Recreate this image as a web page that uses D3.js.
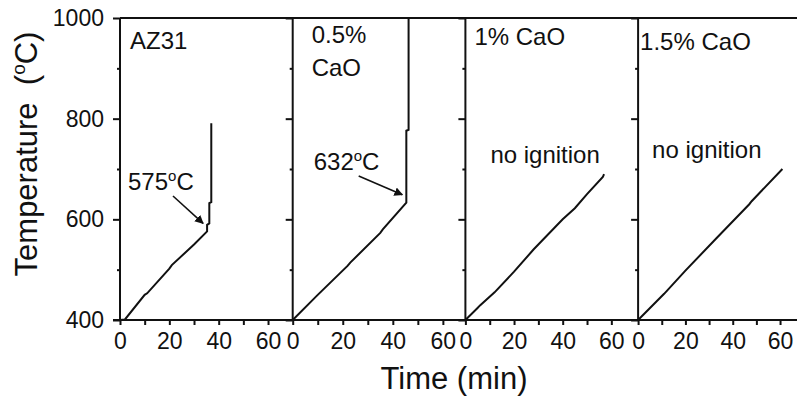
<!DOCTYPE html>
<html>
<head>
<meta charset="utf-8">
<script src="https://cdn.jsdelivr.net/npm/d3@7"></script>
<style>
  body { margin: 0; background: #fff; }
  svg text { font-family: "Liberation Sans", Arial, sans-serif; fill: #111; }
</style>
</head>
<body>
<script>
const width = 797;
const height = 402;

// panel names (two-line label for 0.5% CaO)
const panelLabels = [["AZ31"], ["0.5%", "CaO"], ["1% CaO"], ["1.5% CaO"]];
const xMaxes = [70, 69, 71, 73];
const xTickValues = [0, 20, 40, 60];
const yTickValues = [400, 600, 800, 1000];
const ignitionTemps = ["575", "632", null, null];

// temperature vs time, [min, degC]
const az31 = [[0, 400], [2, 401], [10, 450], [11, 453], [20, 502], [21, 509], [30, 550], [35.3, 576],
  [35.3, 589], [36.2, 592], [36.2, 632], [37, 634], [37, 791]];
const cao05 = [[0, 400], [9, 445], [10, 450], [22, 508], [23, 514], [35, 573], [36, 580], [45.4, 633],
  [45.4, 776], [46.3, 778], [46.3, 1000]];
const cao10 = [[0, 400], [5, 424], [6, 429], [12, 455], [20, 496], [28, 540], [40, 600], [45, 622],
  [50, 650], [56.5, 684], [57, 690]];
const cao15 = [[0, 400], [11, 452], [20, 498], [33, 562], [47, 630], [48, 636], [61, 700]];
const allSeries = [az31, cao05, cao10, cao15];

const plotTop = 18, plotBottom = 320, left0 = 120, panelW = 172.7;

const svg = d3.select("body").append("svg")
  .attr("width", width)
  .attr("height", height);

svg.append("defs").append("marker")
  .attr("id", "arrow")
  .attr("viewBox", "0 0 10 10")
  .attr("refX", 9).attr("refY", 5)
  .attr("markerWidth", 5.5).attr("markerHeight", 5.5)
  .attr("orient", "auto")
  .append("path")
  .attr("d", "M0,0L10,5L0,10z")
  .attr("fill", "#111");

let y = d3.scaleLinear().domain([400, 1000]).range([plotBottom, plotTop]);

// top frame line across all panels
svg.append("line")
  .attr("x1", left0).attr("x2", left0 + 4 * panelW)
  .attr("y1", plotTop).attr("y2", plotTop)
  .attr("stroke", "#111").attr("stroke-width", 2);

allSeries.forEach(function (data, i) {
  const x0 = left0 + i * panelW;
  const x = d3.scaleLinear().domain([0, xMaxes[i]]).range([x0, x0 + panelW]);
  const g = svg.append("g");

  // y axis: majors with labels on first panel only, minors short
  g.append("g")
    .attr("transform", "translate(" + x0 + ",0)")
    .call(d3.axisLeft(y).tickValues([500, 700, 900]).tickSize(3).tickFormat(""))
    .call(a => a.select(".domain").remove());
  const ya = g.append("g")
    .attr("transform", "translate(" + x0 + ",0)")
    .call(d3.axisLeft(y).tickValues(yTickValues).tickSize(7).tickPadding(9)
      .tickFormat(i === 0 ? d3.format("d") : ""));
  ya.select(".domain").attr("d", "M0," + plotTop + "V" + plotBottom);

  // x axis
  const xa = g.append("g")
    .attr("transform", "translate(0," + plotBottom + ")")
    .call(d3.axisBottom(x).tickValues([0, 10, 20, 30, 40, 50, 60]).tickSize(5).tickPadding(8)
      .tickFormat(d => xTickValues.includes(d) ? d : ""));
  xa.select(".domain").attr("d", "M" + (i === 0 ? x0 - 7 : x0) + ",0H" + (x0 + panelW));

  svg.selectAll(".tick line, .domain").attr("stroke", "#111").attr("stroke-width", 2);
  svg.selectAll(".tick text").attr("font-size", 23).attr("fill", "#111");

  // curve
  g.append("path")
    .datum(data)
    .attr("fill", "none")
    .attr("stroke", "#111")
    .attr("stroke-width", 2)
    .attr("d", d3.line().x(d => x(d[0])).y(d => y(d[1])));

  // panel label
  const lx = x0 + [10, 19, 9, 2][i];
  const lab = g.append("text")
    .attr("x", lx)
    .attr("y", [49, 43, 45, 50][i])
    .attr("font-size", 24);
  panelLabels[i].forEach(function (s, k) {
    lab.append("tspan").attr("x", lx).attr("dy", k === 0 ? 0 : 33).text(s);
  });

  if (ignitionTemps[i]) {
    // ignition point = end of sloped section
    const ig = data.find(d => d[1] >= +ignitionTemps[i] - 2);
    const tx = x0 + [8, 21][i];
    const ty = [190, 170][i];
    const t = g.append("text").attr("x", tx).attr("y", ty).attr("font-size", 24);
    t.append("tspan").text(ignitionTemps[i]);
    t.append("tspan").attr("font-size", 15).attr("dy", -9).text("o");
    t.append("tspan").attr("dy", 9).text("C");
    g.append("line")
      .attr("x1", tx + 45).attr("y1", ty + 6)
      .attr("x2", x(ig[0]) - 4).attr("y2", y(ig[1]) - 8)
      .attr("stroke", "#111").attr("stroke-width", 1.6)
      .attr("marker-end", "url(#arrow)");
  } else {
    g.append("text")
      .attr("x", x0 + [0, 0, 25, 14][i])
      .attr("y", [0, 0, 163, 158][i])
      .attr("font-size", 24)
      .text("no ignition");
  }
});

// axis titles
const yt = svg.append("text")
  .attr("transform", "translate(37,154) rotate(-90)")
  .attr("text-anchor", "middle")
  .attr("font-size", 31);
yt.append("tspan").text("Temperature\u00a0\u00a0(");
yt.append("tspan").attr("font-size", 19).attr("dy", -12).text("o");
yt.append("tspan").attr("dy", 12).text("C)");

svg.append("text")
  .attr("x", 454).attr("y", 389)
  .attr("text-anchor", "middle")
  .attr("font-size", 31)
  .text("Time (min)");
</script>
</body>
</html>
